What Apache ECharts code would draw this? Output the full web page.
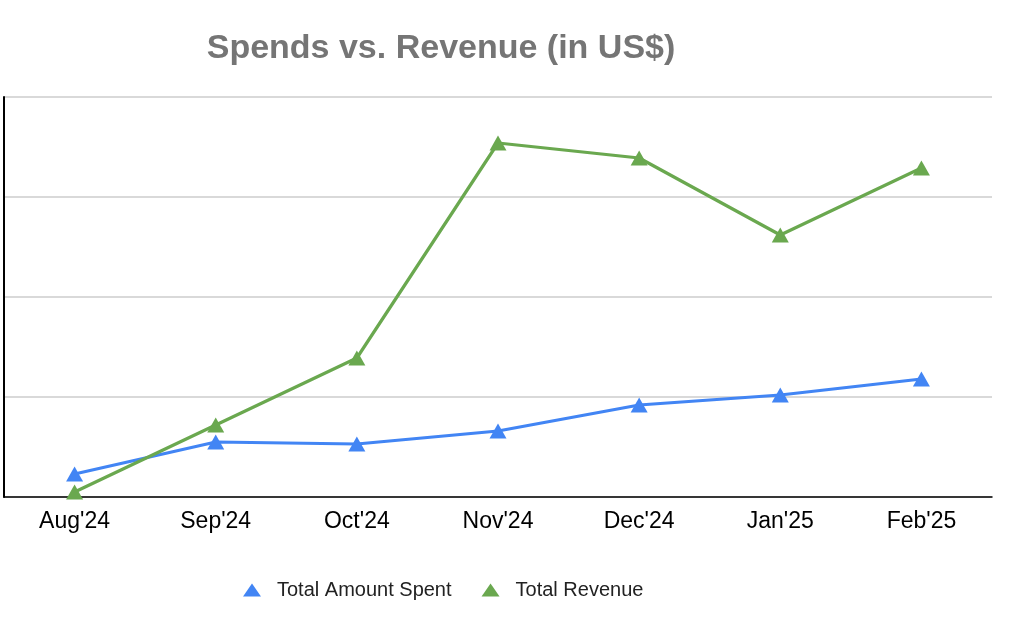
<!DOCTYPE html>
<html>
<head>
<meta charset="utf-8">
<script src="https://cdn.jsdelivr.net/npm/echarts@6/dist/echarts.min.js"></script>
<style>html,body{margin:0;padding:0;background:#fff}#c{width:1024px;height:639px}</style>
</head>
<body>
<div id="c"></div>
<script>
var categories = ["Aug'24","Sep'24","Oct'24","Nov'24","Dec'24","Jan'25","Feb'25"];
var spent = [23, 55, 53, 66, 92, 102, 118];
var revenue = [5, 72, 139, 354, 339, 262, 329];
var yTicks = [0, 100, 200, 300, 400];

var chart = echarts.init(document.getElementById('c'));
chart.setOption({
  animation: false,
  backgroundColor: '#fff',
  title: {
    text: 'Spends vs. Revenue (in US$)',
    left: 436, textAlign: 'center', top: 27,
    textStyle: {fontFamily: 'Liberation Sans, Arial', fontSize: 34, fontWeight: 'bold', color: '#757575'}
  },
  legend: {
    top: 575, left: 238, itemGap: 30, itemWidth: 18, itemHeight: 13,
    textStyle: {fontFamily: 'Liberation Sans, Arial', fontSize: 20, color: '#222', padding: [0, 0, 0, 11]},
    data: [{name: 'Total Amount Spent', icon: 'triangle'}, {name: 'Total Revenue', icon: 'triangle'}]
  },
  grid: {left: 4, right: 32, top: 97, bottom: 142, containLabel: false},
  xAxis: {
    type: 'category', data: categories, boundaryGap: true,
    axisLine: {lineStyle: {color: '#000', width: 1.5}},
    axisTick: {show: false},
    axisLabel: {fontFamily: 'Liberation Sans, Arial', fontSize: 23, color: '#000', margin: 13}
  },
  yAxis: {
    type: 'value', min: yTicks[0], max: yTicks[yTicks.length-1], interval: 100,
    axisLine: {show: true, lineStyle: {color: '#000', width: 2}},
    axisTick: {show: false},
    axisLabel: {show: false},
    splitLine: {lineStyle: {color: '#cccccc', width: 1.5}}
  },
  series: [
    {name: 'Total Amount Spent', type: 'line', data: spent, symbol: 'triangle', symbolSize: [17, 15],
     itemStyle: {color: '#4285F4'}, lineStyle: {color: '#4285F4', width: 3.2}},
    {name: 'Total Revenue', type: 'line', data: revenue, symbol: 'triangle', symbolSize: [17, 15],
     itemStyle: {color: '#6AA84F'}, lineStyle: {color: '#6AA84F', width: 3.2}}
  ]
});
</script>
</body>
</html>
